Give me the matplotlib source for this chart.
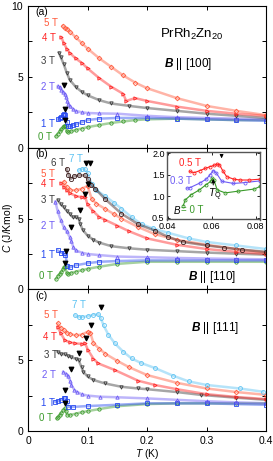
import matplotlib
matplotlib.use("Agg")
import matplotlib.pyplot as plt

plt.rcParams['font.family'] = ['Liberation Sans', 'DejaVu Sans']
plt.rcParams['mathtext.fontset'] = 'custom'
plt.rcParams['mathtext.rm'] = 'Liberation Sans'
plt.rcParams['mathtext.it'] = 'Liberation Sans:italic'
plt.rcParams['mathtext.bf'] = 'Liberation Sans:italic:bold'

# ---- panel (a)  B || [100]
a0_T = [0.047, 0.050, 0.053, 0.056, 0.059, 0.061, 0.063, 0.065, 0.068, 0.072, 0.08, 0.09, 0.10, 0.12, 0.14, 0.16, 0.18, 0.20, 0.25, 0.30, 0.35, 0.40]
a0_C = [0.80, 1.00, 1.15, 1.30, 1.45, 1.55, 1.55, 1.15, 1.12, 1.15, 1.25, 1.35, 1.45, 1.60, 1.75, 1.85, 1.95, 2.00, 2.05, 2.00, 1.95, 1.95]
a1_T = [0.050, 0.053, 0.056, 0.059, 0.061, 0.063, 0.065, 0.067, 0.070, 0.075, 0.08, 0.09, 0.10, 0.12, 0.15, 0.20, 0.25, 0.30, 0.35, 0.40]
a1_C = [2.00, 2.10, 2.20, 2.30, 2.35, 2.30, 1.80, 1.50, 1.50, 1.60, 1.65, 1.80, 1.95, 2.05, 2.10, 2.10, 2.05, 2.00, 1.95, 1.90]
a2_T = [0.050, 0.053, 0.056, 0.059, 0.062, 0.064, 0.066, 0.068, 0.070, 0.075, 0.08, 0.09, 0.10, 0.12, 0.15, 0.20, 0.25, 0.30, 0.35, 0.40]
a2_C = [4.35, 4.25, 4.10, 3.95, 3.80, 3.60, 3.30, 3.10, 2.95, 2.75, 2.60, 2.50, 2.45, 2.42, 2.40, 2.25, 2.15, 2.10, 2.05, 2.00]
a3_T = [0.052, 0.055, 0.060, 0.065, 0.070, 0.080, 0.090, 0.10, 0.12, 0.14, 0.17, 0.20, 0.25, 0.30, 0.35, 0.40]
a3_C = [6.70, 6.40, 5.90, 5.30, 4.80, 4.30, 3.95, 3.70, 3.35, 3.12, 2.95, 2.80, 2.60, 2.40, 2.25, 2.10]
a4_T = [0.056, 0.060, 0.065, 0.070, 0.080, 0.090, 0.10, 0.12, 0.14, 0.16, 0.165, 0.18, 0.20, 0.25, 0.30, 0.35, 0.40]
a4_C = [7.80, 7.40, 7.00, 6.70, 6.30, 6.00, 5.60, 4.90, 4.30, 3.80, 3.30, 3.50, 3.30, 2.90, 2.60, 2.40, 2.25]
a5_T = [0.058, 0.062, 0.065, 0.070, 0.080, 0.090, 0.10, 0.12, 0.14, 0.16, 0.18, 0.20, 0.25, 0.30, 0.35, 0.40]
a5_C = [8.60, 8.45, 8.40, 8.20, 7.80, 7.40, 7.00, 6.30, 5.70, 5.10, 4.60, 4.20, 3.50, 2.95, 2.60, 2.30]
a_arrow_T = [0.0605, 0.063, 0.063]
a_arrow_C = [4.45, 2.75, 1.95]

# ---- panel (b)  B || [110]
b0_T = [0.047, 0.050, 0.053, 0.056, 0.059, 0.061, 0.063, 0.065, 0.068, 0.072, 0.08, 0.09, 0.10, 0.12, 0.15, 0.20, 0.25, 0.30, 0.35, 0.40]
b0_C = [0.75, 0.95, 1.10, 1.25, 1.45, 1.55, 1.57, 1.15, 1.12, 1.15, 1.25, 1.35, 1.45, 1.60, 1.80, 1.95, 1.95, 1.95, 1.95, 1.95]
b1_T = [0.050, 0.055, 0.060, 0.063, 0.066, 0.070, 0.080, 0.10, 0.12, 0.15, 0.20, 0.25, 0.30, 0.35, 0.40]
b1_C = [2.75, 2.60, 2.55, 2.45, 1.65, 1.55, 1.70, 1.85, 1.95, 2.00, 2.05, 2.05, 2.05, 2.05, 2.05]
b2_T = [0.046, 0.050, 0.055, 0.060, 0.065, 0.070, 0.073, 0.076, 0.080, 0.090, 0.10, 0.12, 0.15, 0.20, 0.25, 0.30, 0.35, 0.40]
b2_C = [6.20, 5.50, 4.90, 4.40, 4.10, 3.70, 3.40, 3.00, 2.75, 2.60, 2.50, 2.42, 2.32, 2.27, 2.22, 2.18, 2.15, 2.12]
b3_T = [0.050, 0.055, 0.060, 0.065, 0.070, 0.075, 0.080, 0.085, 0.088, 0.092, 0.10, 0.11, 0.12, 0.14, 0.17, 0.20, 0.25, 0.30, 0.35, 0.40]
b3_C = [6.30, 6.00, 5.80, 5.55, 5.35, 5.10, 5.10, 5.00, 4.60, 4.20, 3.80, 3.50, 3.30, 3.05, 2.90, 2.80, 2.70, 2.60, 2.52, 2.45]
b4_T = [0.056, 0.060, 0.065, 0.070, 0.080, 0.090, 0.096, 0.10, 0.11, 0.12, 0.13, 0.15, 0.17, 0.20, 0.25, 0.30, 0.35, 0.40]
b4_C = [7.50, 7.25, 7.00, 6.80, 6.60, 6.50, 6.55, 6.00, 5.50, 5.10, 4.90, 4.50, 4.10, 3.60, 3.15, 2.85, 2.65, 2.50]
b5_T = [0.060, 0.065, 0.070, 0.080, 0.090, 0.10, 0.107, 0.115, 0.129, 0.145, 0.157, 0.185, 0.213, 0.25, 0.30, 0.35, 0.40]
b5_C = [7.60, 7.20, 7.00, 7.00, 7.10, 7.30, 6.40, 6.05, 5.70, 5.30, 5.00, 4.40, 3.90, 3.50, 3.15, 2.85, 2.60]
b6_T = [0.065, 0.068, 0.072, 0.078, 0.085, 0.096, 0.10, 0.106, 0.113, 0.129, 0.157, 0.185, 0.213, 0.236, 0.26, 0.30, 0.33, 0.36, 0.40]
b6_C = [8.50, 8.10, 7.80, 8.00, 8.05, 8.05, 7.80, 7.40, 7.10, 6.40, 5.35, 4.60, 4.15, 3.70, 3.35, 3.10, 2.95, 2.80, 2.65]
b7_T = [0.085, 0.090, 0.095, 0.10, 0.107, 0.115, 0.129, 0.145, 0.157, 0.174, 0.191, 0.21, 0.235, 0.27, 0.30, 0.35, 0.40]
b7_C = [8.40, 8.50, 8.50, 8.20, 7.45, 7.00, 6.60, 6.10, 5.70, 5.10, 4.60, 4.30, 4.00, 3.60, 3.35, 3.10, 2.85]
b_arrow_T = [0.098, 0.105, 0.101, 0.0965, 0.087, 0.0725, 0.0645, 0.063]
b_arrow_C = [8.95, 8.95, 7.45, 6.70, 5.58, 4.40, 2.68, 1.85]

# ---- panel (c)  B || [111]
c0_T = [0.048, 0.050, 0.053, 0.056, 0.059, 0.062, 0.064, 0.066, 0.070, 0.080, 0.09, 0.10, 0.12, 0.15, 0.20, 0.25, 0.30, 0.35, 0.40]
c0_C = [0.89, 1.00, 1.15, 1.30, 1.45, 1.60, 1.40, 1.13, 1.12, 1.22, 1.32, 1.40, 1.55, 1.75, 1.90, 1.95, 1.95, 1.95, 1.95]
c1_T = [0.046, 0.050, 0.055, 0.060, 0.062, 0.065, 0.067, 0.075, 0.10, 0.15, 0.20, 0.25, 0.30, 0.35, 0.40]
c1_C = [2.06, 2.10, 2.20, 2.30, 2.35, 2.10, 1.71, 1.70, 1.76, 1.85, 1.95, 1.95, 1.95, 1.90, 1.85]
c2_T = [0.059, 0.064, 0.068, 0.071, 0.073, 0.078, 0.082, 0.090, 0.10, 0.121, 0.15, 0.20, 0.25, 0.30, 0.35, 0.40]
c2_C = [4.18, 4.05, 3.90, 3.50, 3.24, 2.90, 2.77, 2.60, 2.50, 2.42, 2.38, 2.30, 2.20, 2.10, 2.02, 1.96]
c3_T = [0.050, 0.055, 0.062, 0.068, 0.073, 0.080, 0.085, 0.090, 0.093, 0.10, 0.11, 0.129, 0.157, 0.185, 0.20, 0.25, 0.29, 0.35, 0.40]
c3_C = [5.58, 5.45, 5.40, 5.30, 5.20, 5.10, 5.00, 4.50, 4.18, 3.85, 3.60, 3.36, 3.12, 3.00, 2.95, 2.75, 2.55, 2.35, 2.20]
c4_T = [0.050, 0.055, 0.062, 0.070, 0.079, 0.090, 0.096, 0.101, 0.11, 0.118, 0.146, 0.185, 0.213, 0.25, 0.30, 0.35, 0.40]
c4_C = [7.35, 6.90, 6.40, 6.25, 6.18, 6.15, 6.18, 5.70, 5.10, 4.77, 4.30, 3.55, 3.25, 2.95, 2.60, 2.40, 2.25]
c5_T = [0.050, 0.055, 0.060, 0.065, 0.070, 0.080, 0.090, 0.10, 0.105, 0.11, 0.12, 0.13, 0.15, 0.17, 0.20, 0.25, 0.30, 0.35, 0.40]
c5_C = [7.60, 7.30, 7.10, 6.95, 6.85, 6.75, 6.80, 7.00, 6.90, 6.20, 5.80, 5.45, 4.95, 4.50, 3.95, 3.40, 3.00, 2.75, 2.55]
c7_T = [0.079, 0.085, 0.090, 0.10, 0.11, 0.118, 0.122, 0.127, 0.135, 0.146, 0.16, 0.174, 0.19, 0.213, 0.244, 0.27, 0.30, 0.356, 0.395]
c7_C = [8.17, 8.05, 8.05, 8.10, 8.20, 8.24, 8.00, 7.46, 6.80, 6.18, 5.60, 5.12, 4.80, 4.45, 3.90, 3.50, 3.25, 3.00, 2.77]
c_arrow_T = [0.1225, 0.1065, 0.098, 0.0857, 0.0729, 0.0628, 0.0628]
c_arrow_C = [8.75, 7.46, 6.53, 5.47, 4.41, 2.89, 1.95]

# ---- inset of (b)
i0_T = [0.047, 0.048, 0.0507, 0.0544, 0.0574, 0.0596, 0.0603, 0.061, 0.0625, 0.0662, 0.072, 0.0794, 0.082]
i0_C = [0.78, 0.92, 1.04, 1.15, 1.27, 1.35, 1.42, 1.38, 1.15, 1.08, 1.12, 1.17, 1.23]
i3_T = [0.0486, 0.050, 0.0546, 0.0575, 0.0592, 0.0607, 0.062, 0.0646, 0.0699, 0.075, 0.082]
i3_C = [1.19, 1.20, 1.31, 1.40, 1.50, 1.60, 1.55, 1.35, 1.30, 1.32, 1.36]
i5_T = [0.050, 0.052, 0.0546, 0.057, 0.0592, 0.061, 0.0622, 0.0635, 0.065, 0.0668, 0.070, 0.073, 0.077, 0.082]
i5_C = [1.58, 1.55, 1.60, 1.65, 1.69, 1.72, 1.75, 1.74, 1.60, 1.46, 1.40, 1.38, 1.38, 1.40]

col = {'0': '#3a9a2a', '1': '#2548f0', '2': '#6e5cf5', '3': '#3a3a3a',
       '4': '#ff2222', '5': '#ff5a3c', '6': '#3a1c1c', '7': '#5cc2f2'}
mk = {'0': 'o', '1': 's', '2': '^', '3': 'v', '4': '>', '5': 'D', '6': 'o', '7': 'o'}

fig = plt.figure(figsize=(2.73, 4.61), dpi=100)
W = 273.0
H = 461.0
left = 28 / W
width = 238 / W
tops = [6, 147.7, 289.3]
ph = 141.7

def curve(ax, T, C, key, ms=2.4):
    ax.plot(T, C, '-', color=col[key], lw=1.8, alpha=0.45)
    ax.plot(T, C, ls='none', marker=mk[key], ms=ms, mfc='none', mec=col[key], mew=0.6)

def label(ax, x, y, s, key):
    ax.text(x, y, s, color=col[key], fontsize=7, ha='right', va='center')

def style(ax, show10):
    ax.set_xlim(0, 0.4)
    ax.set_ylim(0, 10)
    ax.set_xticks([0, 0.1, 0.2, 0.3, 0.4])
    ax.set_yticks([0, 5, 10])
    ax.set_yticks([2.5, 7.5], minor=True)
    ax.tick_params(which='both', direction='in', top=True, right=True, length=3, width=0.7, labelsize=7.5)
    if not show10:
        ax.set_yticklabels(['0', '5', ''])
    for s in ax.spines.values():
        s.set_linewidth(0.8)

axes = []
for t in tops:
    ax = fig.add_axes([left, 1 - (t + ph) / H, width, ph / H])
    axes.append(ax)
ax_a, ax_b, ax_c = axes
for ax in axes[:2]:
    ax.tick_params(labelbottom=False)

# (a)
style(ax_a, True)
curve(ax_a, a0_T, a0_C, '0')
curve(ax_a, a1_T, a1_C, '1')
curve(ax_a, a2_T, a2_C, '2')
curve(ax_a, a3_T, a3_C, '3')
curve(ax_a, a4_T, a4_C, '4')
curve(ax_a, a5_T, a5_C, '5')
ax_a.scatter(a_arrow_T, a_arrow_C, marker='v', s=10, color='k', zorder=5)
label(ax_a, 0.050, 8.8, '5 T', '5')
label(ax_a, 0.047, 7.76, '4 T', '4')
label(ax_a, 0.045, 6.1, '3 T', '3')
label(ax_a, 0.045, 4.26, '2 T', '2')
label(ax_a, 0.045, 1.69, '1 T', '1')
label(ax_a, 0.040, 0.79, '0 T', '0')
ax_a.text(0.012, 9.55, '(a)', fontsize=7.5, va='center')
ax_a.text(0.275, 8.0, r'PrRh$_2$Zn$_{20}$', fontsize=9.5, ha='center', va='center')
ax_a.text(0.27, 5.9, r'$\mathbf{B}$ || [100]', fontsize=8.5, ha='center', va='center')

# (b)
style(ax_b, False)
curve(ax_b, b0_T, b0_C, '0')
curve(ax_b, b1_T, b1_C, '1')
curve(ax_b, b2_T, b2_C, '2')
curve(ax_b, b3_T, b3_C, '3')
curve(ax_b, b4_T, b4_C, '4')
curve(ax_b, b5_T, b5_C, '5')
curve(ax_b, b7_T, b7_C, '7', ms=2.8)
curve(ax_b, b6_T, b6_C, '6', ms=3.0)
ax_b.scatter(b_arrow_T, b_arrow_C, marker='v', s=10, color='k', zorder=5)
label(ax_b, 0.062, 8.9, '6 T', '3')
label(ax_b, 0.093, 9.2, '7 T', '7')
label(ax_b, 0.045, 8.15, '5 T', '5')
label(ax_b, 0.045, 7.44, '4 T', '4')
label(ax_b, 0.045, 6.3, '3 T', '3')
label(ax_b, 0.045, 4.44, '2 T', '2')
label(ax_b, 0.045, 2.46, '1 T', '1')
label(ax_b, 0.042, 0.92, '0 T', '0')
ax_b.text(0.012, 9.55, '(b)', fontsize=7.5, va='center')
ax_b.text(0.31, 0.9, r'$\mathbf{B}$ || [110]', fontsize=8.5, ha='center', va='center')

# inset
ins = fig.add_axes([166.7 / W, 1 - 219.5 / H, 93.3 / W, 67.8 / H])
ins.plot(i0_T, i0_C, '-o', color=col['0'], ms=2.2, mfc='none', mew=0.6, lw=0.8)
ins.plot(i3_T, i3_C, '-o', color=col['2'], ms=2.2, mfc='none', mew=0.6, lw=0.8)
ins.plot(i5_T, i5_C, '-o', color=col['4'], ms=2.2, mfc='none', mew=0.6, lw=0.8)
ins.set_xlim(0.0395, 0.082)
ins.set_ylim(0.46, 2.04)
ins.set_xticks([0.04, 0.06, 0.08])
ins.set_yticks([0.5, 1.0, 1.5, 2.0])
ins.set_xticklabels(['0.04', '0.06', '0.08'])
ins.set_yticklabels(['0.5', '1.0', '1.5', '2.0'])
ins.tick_params(direction='in', top=True, right=True, length=2.5, width=0.6, labelsize=6.5, pad=1.5)
for s in ins.spines.values():
    s.set_linewidth(1.0)
    s.set_edgecolor('#555555')
ins.text(0.0452, 1.78, '0.5 T', color=col['4'], fontsize=7, ha='left', va='center')
ins.text(0.0412, 1.36, '0.3 T', color=col['2'], fontsize=7, ha='left', va='center')
ins.text(0.0422, 0.68, r'$B$', color='k', fontsize=7, ha='left', va='center')
ins.text(0.0462, 0.68, '= 0 T', color=col['0'], fontsize=7, ha='left', va='center')
ins.annotate('', xy=(0.0607, 1.47), xytext=(0.0607, 1.2),
             arrowprops=dict(arrowstyle='-|>', lw=0.7, color='k', mutation_scale=5))
ins.annotate('', xy=(0.0645, 1.82), xytext=(0.0645, 2.02),
             arrowprops=dict(arrowstyle='-|>', lw=0.7, color='k', mutation_scale=5))
ins.text(0.0612, 1.03, r'$T_{\rm Q}$', fontsize=7.5, ha='center', va='center')

# (c)
style(ax_c, False)
curve(ax_c, c0_T, c0_C, '0')
curve(ax_c, c1_T, c1_C, '1')
curve(ax_c, c2_T, c2_C, '2')
curve(ax_c, c3_T, c3_C, '3')
curve(ax_c, c4_T, c4_C, '4')
curve(ax_c, c5_T, c5_C, '5')
curve(ax_c, c7_T, c7_C, '7', ms=2.8)
ax_c.scatter(c_arrow_T, c_arrow_C, marker='v', s=10, color='k', zorder=5)
label(ax_c, 0.0975, 8.87, '7 T', '7')
label(ax_c, 0.0505, 8.17, '5 T', '5')
label(ax_c, 0.048, 6.64, '4 T', '4')
label(ax_c, 0.0505, 5.35, '3 T', '3')
label(ax_c, 0.0475, 3.94, '2 T', '2')
label(ax_c, 0.045, 1.95, '1 T', '1')
label(ax_c, 0.042, 0.89, '0 T', '0')
ax_c.text(0.012, 9.55, '(c)', fontsize=7.5, va='center')
ax_c.text(0.315, 7.3, r'$\mathbf{B}$ || [111]', fontsize=8.5, ha='center', va='center')
ax_c.set_xticklabels(['0', '0.1', '0.2', '0.3', '0.4'])
ax_c.set_xlabel(r'$T$ (K)', fontsize=7.5, labelpad=1)

fig.text(8 / W, 1 - 228 / H, r'$C$ (J/Kmol)', rotation=90, fontsize=7.5, ha='center', va='center')

fig.savefig('out.png', dpi=100)
